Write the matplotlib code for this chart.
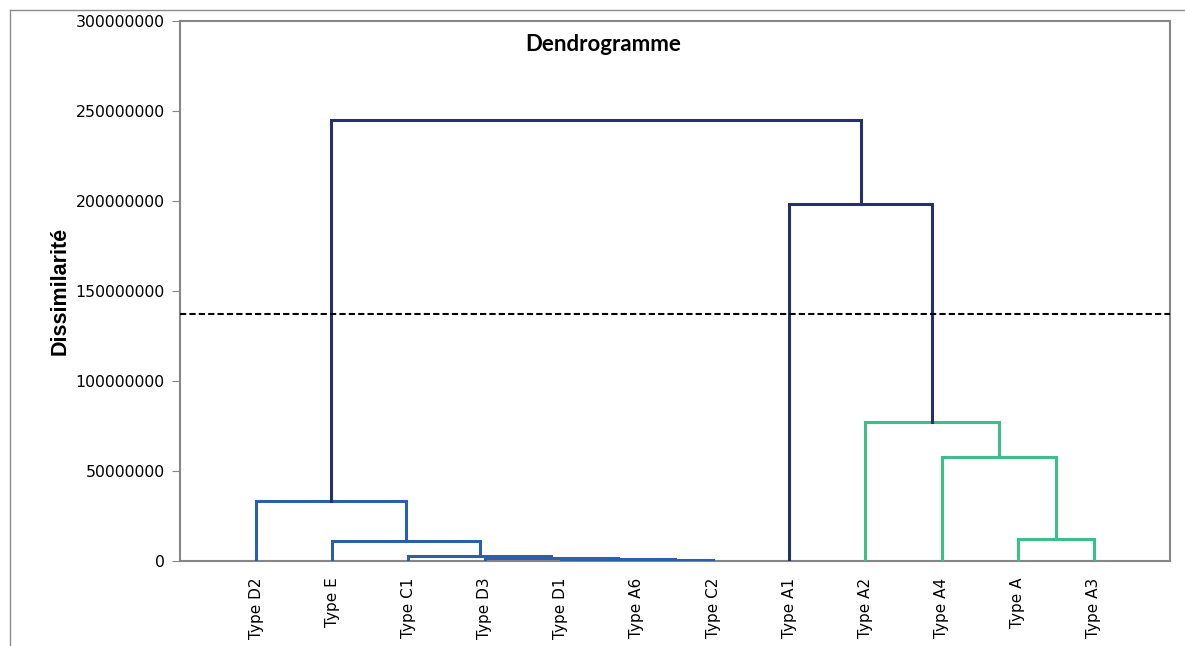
import matplotlib.pyplot as plt
from matplotlib.lines import Line2D

leaves = ['Type D2', 'Type E', 'Type C1', 'Type D3', 'Type D1', 'Type A6',
          'Type C2', 'Type A1', 'Type A2', 'Type A4', 'Type A', 'Type A3']

# merges: node ids 0..11 are leaves, merge k gets id 12+k
merge_left = [5, 4, 3, 2, 1, 0, 10, 9, 8, 7, 17]
merge_right = [6, 12, 13, 14, 15, 16, 11, 18, 19, 20, 21]
merge_height = [0.4e6, 0.9e6, 1.8e6, 2.6e6, 11.1e6, 33.3e6,
                12.2e6, 57.7e6, 77.0e6, 198.5e6, 244.8e6]
merge_group = ['c1', 'c1', 'c1', 'c1', 'c1', 'c1',
               'c2', 'c2', 'c2', 'top', 'top']

threshold = 137.5e6

colors = {'c1': '#2b5eab', 'c2': '#3dbf89', 'top': '#26306e'}

fig = plt.figure(figsize=(11.85, 6.46), dpi=100)
ax = fig.add_axes([180 / 1185, 1 - 561 / 646, 990 / 1185, 540 / 646])

# position / height of each node
xpos = {i: i + 1 for i in range(len(leaves))}
ypos = {i: 0.0 for i in range(len(leaves))}
for k in range(len(merge_left)):
    a, b, h = merge_left[k], merge_right[k], merge_height[k]
    c = colors[merge_group[k]]
    ax.plot([xpos[a], xpos[a], xpos[b], xpos[b]], [ypos[a], h, h, ypos[b]],
            color=c, lw=2.2, solid_joinstyle='miter', zorder=3)
    node = len(leaves) + k
    xpos[node] = (xpos[a] + xpos[b]) / 2
    ypos[node] = h

ax.axhline(threshold, color='black', lw=1.5, ls=(0, (3, 1.5)), zorder=4)

ax.set_xlim(0, 13)
ax.set_ylim(0, 300000000)
ax.set_yticks(range(0, 300000001, 50000000))
ax.set_yticklabels([str(v) for v in range(0, 300000001, 50000000)], fontsize=11.3)
ax.set_xticks(range(1, len(leaves) + 1))
ax.set_xticklabels(leaves, rotation=90, fontsize=11)
ax.tick_params(axis='x', length=0, pad=12)
ax.tick_params(axis='y', length=6, color='#868686', pad=5)
for s in ax.spines.values():
    s.set_color('#868686')
    s.set_linewidth(1.5)

ax.text(0.427, 0.9556, 'Dendrogramme', transform=ax.transAxes, ha='center',
        va='center', fontsize=16, fontweight='bold', family='Lato')
fig.text(60 / 1185, 1 - 291 / 646, 'Dissimilarité', rotation=90, ha='center',
         va='center', fontsize=15.5, fontweight='bold', family='Liberation Sans')

# outer chart frame
fig.add_artist(Line2D([10 / 1185, 10 / 1185], [0, 1 - 10 / 646],
                      transform=fig.transFigure, color='#8c8c8c', lw=1))
fig.add_artist(Line2D([10 / 1185, 1], [1 - 10 / 646, 1 - 10 / 646],
                      transform=fig.transFigure, color='#8c8c8c', lw=1))

fig.savefig('out.png', dpi=100)
